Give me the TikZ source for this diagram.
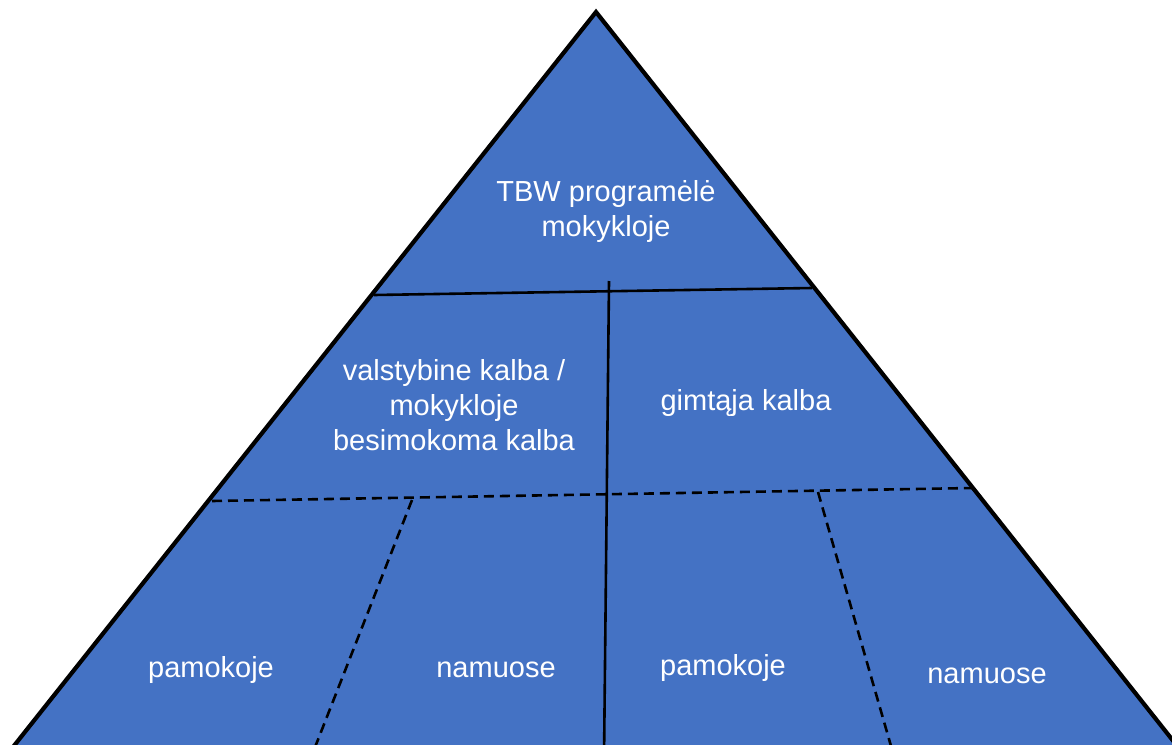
\documentclass[tikz,border=0pt]{standalone}
\usepackage{fontspec}
\setmainfont{Liberation Sans}
\definecolor{pyrblue}{HTML}{4472C4}
\tikzset{
  edgeline/.style={line width=4.2pt, line join=miter},
  innerline/.style={line width=2.6pt},
  dashline/.style={line width=2.6pt, dash pattern=on 10pt off 6pt},
  lbl/.style={text=white, font=\fontsize{29}{35}\selectfont, align=center, inner sep=0pt}
}
\begin{document}
\begin{tikzpicture}[x=1pt,y=-1pt]
\useasboundingbox (0,0) rectangle (1172,744);
\clip (0,0) rectangle (1172,744);
% triangle corners
\coordinate (apex) at (596,12);
\coordinate (bl) at (-29,800);
\coordinate (br) at (1220,800);
\fill[pyrblue] (apex) -- (bl) -- (br) -- cycle;
% inner lines
\coordinate (t1) at (374,295);
\coordinate (t2) at (812,288);
\coordinate (v1) at (609,281);
\coordinate (v2) at (604,760);
\coordinate (d1) at (212,501);
\coordinate (d2) at (973,488);
\coordinate (l1) at (412,500);
\coordinate (l2) at (310,760);
\coordinate (r1) at (818,492);
\coordinate (r2) at (895,760);
\draw[innerline] (t1) -- (t2);
\draw[innerline] (v1) -- (v2);
\draw[dashline] (d1) -- (d2);
\draw[dashline] (l1) -- (l2);
\draw[dashline] (r1) -- (r2);
\draw[edgeline] (bl) -- (apex) -- (br);
% labels
\node[lbl] (top) at (606,211) {TBW programėlė\\mokykloje};
\node[lbl] (state) at (454,405) {valstybine kalba /\\mokykloje\\besimokoma kalba};
\node[lbl] (native) at (746,403) {gimtąja kalba};
\node[lbl] (p1) at (211,670) {pamokoje};
\node[lbl] (n1) at (496,670) {namuose};
\node[lbl] (p2) at (723,668) {pamokoje};
\node[lbl] (n2) at (987,676) {namuose};
\end{tikzpicture}
\end{document}
